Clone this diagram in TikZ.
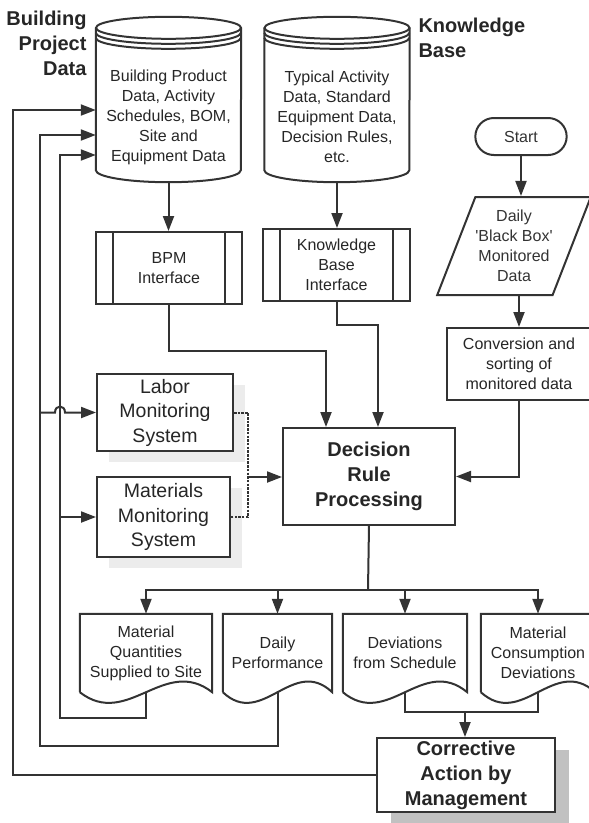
\documentclass[tikz,border=0pt]{standalone}
\usepackage{fontspec}
\setmainfont{Liberation Sans}
\usetikzlibrary{arrows.meta,calc,shapes.geometric,shapes.misc,shadows}

\begin{document}
\begin{tikzpicture}[
    x=1pt, y=-1pt,
    line/.style={line width=2pt, color=black!80},
    flow/.style={line, ->, >={Triangle[length=15pt,width=11pt]}},
    dotline/.style={line, dash pattern=on 2.5pt off 1.2pt},
    txt/.style={font=\fontsize{16}{20}\selectfont, align=center, text=black!85},
    bigtxt/.style={font=\fontsize{19.5}{24.5}\selectfont, align=center, text=black!85},
    boldtxt/.style={font=\fontsize{20}{25}\selectfont\bfseries, align=center, text=black!85},
    store/.style={txt, minimum width=145pt, minimum height=130pt, inner sep=0pt},
    proc/.style={draw, line, fill=white, inner sep=0pt},
    iface/.style={proc, txt, minimum height=72pt,
        path picture={
            \draw[line] ([xshift=17pt]path picture bounding box.north west) -- ([xshift=17pt]path picture bounding box.south west);
            \draw[line] ([xshift=-17pt]path picture bounding box.north east) -- ([xshift=-17pt]path picture bounding box.south east);}},
    doc/.style={txt, minimum height=78pt, inner sep=0pt},
    term/.style={txt, rounded rectangle, draw, line, minimum width=98pt, minimum height=37pt},
    io/.style={txt, trapezium, trapezium left angle=62, trapezium right angle=118, trapezium stretches=true,
        draw, line, minimum width=148pt, minimum height=98pt, inner sep=0pt},
    shade/.style={drop shadow={fill=black!12, opacity=0.6, shadow xshift=12pt, shadow yshift=-11pt}},
    darkshade/.style={drop shadow={fill=black!35, opacity=0.7, shadow xshift=14pt, shadow yshift=-12pt}}
]
    \useasboundingbox (0,0) rectangle (589,823);

    \node[store] (bpd) at (168.5,117) {Building Product\\Data, Activity\\Schedules, BOM,\\Site and\\Equipment Data};
    \node[store] (kbd) at (337,117) {Typical Activity\\Data, Standard\\Equipment Data,\\Decision Rules,\\etc.};
    \foreach \c in {bpd,kbd}{
        \draw[line] ($(\c.north west)+(0,-24)$) -- ($(\c.south west)+(0,-12)$) arc[start angle=180, end angle=0, x radius=72.5, y radius=12] -- ($(\c.north east)+(0,-24)$);
        \draw[line] ($(\c.north)+(0,-24)$) ellipse[x radius=72.5, y radius=11];
        \draw[line] ($(\c.north west)+(0,-19)$) arc[start angle=180, end angle=0, x radius=72.5, y radius=11];
        \draw[line] ($(\c.north west)+(0,-14)$) arc[start angle=180, end angle=0, x radius=72.5, y radius=11];
    }
    \node[boldtxt, align=right, anchor=east] (bpdlabel) at (90,43) {Building\\Project\\Data};
    \node[boldtxt, align=left, anchor=west] (kbdlabel) at (415,38) {Knowledge\\Base};

    \node[iface, minimum width=146pt] (bpm) at (169,268) {BPM\\Interface};
    \node[iface, minimum width=147pt] (kbi) at (336.5,265) {Knowledge\\Base\\Interface};

    \node[term] (start) at (521,136.5) {Start};
    \node[io] (blk) at (514,246) {Daily\\{\textquotesingle}Black Box{\textquotesingle}\\Monitored\\Data};
    \node[proc, txt, minimum width=144pt, minimum height=72pt] (cnv) at (519,364) {Conversion and\\sorting of\\monitored data};

    \node[proc, bigtxt, shade, minimum width=136pt, minimum height=77pt] (lms) at (165,412.5) {Labor\\Monitoring\\System};
    \node[proc, bigtxt, shade, minimum width=133pt, minimum height=80pt] (mms) at (163.5,517) {Materials\\Monitoring\\System};
    \node[proc, boldtxt, minimum width=172pt, minimum height=97pt] (drp) at (369,476.5) {Decision\\Rule\\Processing};

    \node[doc, minimum width=132pt] (mqs) at (146,653) {Material\\Quantities\\Supplied to Site};
    \node[doc, minimum width=109pt] (dp) at (277.5,653) {Daily\\Performance};
    \node[doc, minimum width=124pt] (dfs) at (405,653) {Deviations\\from Schedule};
    \node[doc, minimum width=114pt] (mcd) at (538,653) {Material\\Consumption\\Deviations};
    \foreach \d in {mqs,dp,dfs,mcd}
        \draw[line] (\d.south west) -- (\d.north west) -- (\d.north east) -- (\d.south east)
            .. controls ($(\d.south east)!0.36!(\d.south west)+(0,-37)$) and ($(\d.south east)!0.64!(\d.south west)+(0,37)$) .. (\d.south west);

    \node[proc, boldtxt, darkshade, minimum width=178pt, minimum height=74pt] (cam) at (466,775) {Corrective\\Action by\\Management};

    \coordinate (fb1) at (13,110);
    \coordinate (fb2) at (40,135);
    \coordinate (fb2b) at (40,746);
    \coordinate (fb3) at (60,155);
    \coordinate (fb3b) at (60,718);
    \coordinate (jn) at (248,477);
    \coordinate (bus) at (368,590);
    \coordinate (jc) at (465,712);

    \draw[flow] (bpd.south) -- (bpd.south |- bpm.north);
    \draw[flow] (kbd.south) -- (kbd.south |- kbi.north);
    \draw[flow] (bpm.south) -- ++(0,46) -| ($(drp.north west)+(44,0)$);
    \draw[flow] (kbi.south) -- ++(0,23) -| ($(drp.north west)+(96,0)$);

    \draw[flow] (start.south) -- (start.south |- blk.north);
    \draw[flow] (blk.south -| cnv.north) -- (cnv.north);
    \draw[flow] (cnv.south) |- (drp.east);

    \draw[dotline] (lms.east) -| (jn) |- (mms.east);
    \draw[flow] (jn) -- (jn -| drp.west);

    \draw[line] (drp.south) -- (bus);
    \foreach \d in {mqs,dp,dfs,mcd}
        \draw[flow] (bus) -| (\d.north);

    \draw[line] (dfs.south) |- (jc) -| (mcd.south);
    \draw[flow] (jc) -- (jc |- cam.north);

    \draw[flow] (cam.west) -| (fb1) -- (fb1 -| bpd.west);
    \draw[flow] (dp.south) |- (fb2b) -- (fb2) -- (fb2 -| bpd.west);
    \draw[flow] (mqs.south) |- (fb3b) -- (fb3) -- (fb3 -| bpd.west);
    \draw[flow] (lms.west -| fb2) -- ($(lms.west -| fb3)+(-5,0)$) .. controls ($(lms.west -| fb3)+(-5,-8)$) and ($(lms.west -| fb3)+(5,-8)$) .. ($(lms.west -| fb3)+(5,0)$) -- (lms.west);
    \draw[flow] (mms.west -| fb3) -- (mms.west);
\end{tikzpicture}
\end{document}
